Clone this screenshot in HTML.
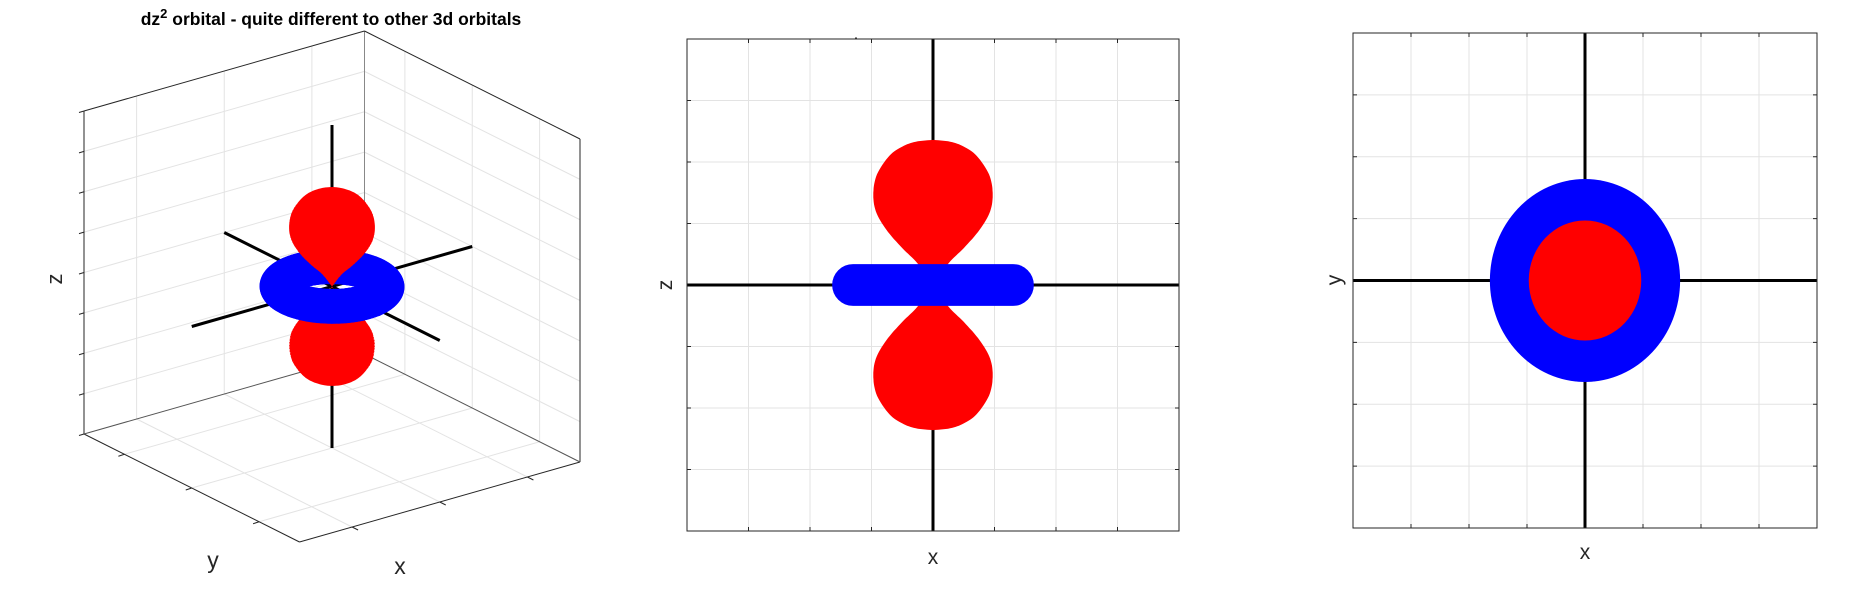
<!DOCTYPE html>
<html><head><meta charset="utf-8"><style>
html,body{margin:0;padding:0;background:#fff}
svg{display:block;font-family:"Liberation Sans",sans-serif}
</style></head><body>
<svg id="fig" width="1856" height="610" viewBox="0 0 1856 610" xmlns="http://www.w3.org/2000/svg">
<g id="p3d"></g>
<g id="pxz"></g>
<g id="pxy"></g>
<text x="331" y="25" text-anchor="middle" font-weight="bold" font-size="17.5">dz<tspan dy="-7" font-size="13">2</tspan><tspan dy="7"> orbital - quite different to other 3d orbitals</tspan></text>
<text transform="translate(62,279) rotate(-90)" text-anchor="middle" font-size="22" fill="#262626">z</text>
<text x="213" y="568" text-anchor="middle" font-size="23" fill="#262626">y</text>
<text x="400" y="574" text-anchor="middle" font-size="23" fill="#262626">x</text>
<text x="933" y="564" text-anchor="middle" font-size="21" fill="#262626">x</text>
<text transform="translate(672,285) rotate(-90)" text-anchor="middle" font-size="21" fill="#262626">z</text>
<text x="1585" y="559" text-anchor="middle" font-size="21" fill="#262626">x</text>
<text transform="translate(1341,280) rotate(-90)" text-anchor="middle" font-size="21" fill="#262626">y</text>
</svg>
<script>
// ---- data (axis units) ----
const axisRange = [-4, 4];
const ticks2D = [-3, -2, -1, 0, 1, 2, 3];
const ticks3DXY = [-2.5, 0, 2.5];
const ticks3DZ = [-3, -2, -1, 0, 1, 2, 3];
// lobe profile: height along z and half-width of the red lobe
const lobeZ = [0, 0.35, 0.6, 0.9, 1.2, 1.5, 1.8, 2.1, 2.25, 2.33, 2.36];
const lobeHalfW = [0, 0.25, 0.5, 0.76, 0.93, 0.97, 0.91, 0.71, 0.5, 0.28, 0];
// torus (blue ring): major radius and tube radius
const torusMajor = [1.3];
const torusTube = [0.34];

const NS = "http://www.w3.org/2000/svg";
function mk(parent, tag, attrs) {
  const e = document.createElementNS(NS, tag);
  for (const k in attrs) e.setAttribute(k, attrs[k]);
  parent.appendChild(e);
  return e;
}
const GRID = "#e3e3e3", AX = "#262626";

function lobeSamples(n) {
  const pts = lobeZ.map((z, i) => [z, lobeHalfW[i]]);
  const out = [];
  for (let i = 0; i < pts.length - 1; i++) {
    const p0 = pts[Math.max(0, i - 1)], p1 = pts[i], p2 = pts[i + 1], p3 = pts[Math.min(pts.length - 1, i + 2)];
    for (let k = 0; k < n; k++) {
      const t = k / n, t2 = t * t, t3 = t2 * t;
      const f = (a, b, c, d) => 0.5 * (2 * b + (-a + c) * t + (2 * a - 5 * b + 4 * c - d) * t2 + (-a + 3 * b - 3 * c + d) * t3);
      out.push([f(p0[0], p1[0], p2[0], p3[0]), Math.max(0, f(p0[1], p1[1], p2[1], p3[1]))]);
    }
  }
  out.push(pts[pts.length - 1]);
  return out;
}

function panel2D(g, box, kind) {
  const [x0, y0, x1, y1] = box;
  const sx = v => x0 + (v - axisRange[0]) / (axisRange[1] - axisRange[0]) * (x1 - x0);
  const sy = v => y1 - (v - axisRange[0]) / (axisRange[1] - axisRange[0]) * (y1 - y0);
  mk(g, "rect", {x: x0, y: y0, width: x1 - x0, height: y1 - y0, fill: "#fff"});
  ticks2D.forEach(t => {
    let l = mk(g, "line", {x1: sx(t), y1: y0, x2: sx(t), y2: y1, stroke: GRID, "stroke-width": 1});
    
    
    l = mk(g, "line", {x1: x0, y1: sy(t), x2: x1, y2: sy(t), stroke: GRID, "stroke-width": 1});
    
    
    mk(g, "line", {x1: sx(t), y1: y1, x2: sx(t), y2: y1 - 4, stroke: AX});
    mk(g, "line", {x1: sx(t), y1: y0, x2: sx(t), y2: y0 + 4, stroke: AX});
    mk(g, "line", {x1: x0, y1: sy(t), x2: x0 + 4, y2: sy(t), stroke: AX});
    mk(g, "line", {x1: x1, y1: sy(t), x2: x1 - 4, y2: sy(t), stroke: AX});
  });
  let a = mk(g, "line", {x1: sx(0), y1: y0, x2: sx(0), y2: y1, stroke: "#000", "stroke-width": 3});
  
  
  a = mk(g, "line", {x1: x0, y1: sy(0), x2: x1, y2: sy(0), stroke: "#000", "stroke-width": 3});
  
  
  const S = lobeSamples(8);
  const R = torusMajor[0], r = torusTube[0];
  if (kind === "xz") {
    [1, -1].forEach(sg => {
      let d = "";
      S.forEach((p, i) => { d += (i ? "L" : "M") + sx(p[1]).toFixed(1) + "," + sy(sg * p[0]).toFixed(1); });
      for (let i = S.length - 1; i >= 0; i--) d += "L" + sx(-S[i][1]).toFixed(1) + "," + sy(sg * S[i][0]).toFixed(1);
      const lobe = mk(g, "path", {d: d + "Z", fill: "#f00"});
      
      
    });
    const ry = Math.abs(sy(r) - sy(0)), rx = Math.abs(sx(r) - sx(0));
    let d = "M" + sx(-R) + "," + sy(r) + "L" + sx(R) + "," + sy(r) +
      "A" + rx + "," + ry + " 0 0 1 " + sx(R) + "," + sy(-r) +
      "L" + sx(-R) + "," + sy(-r) + "A" + rx + "," + ry + " 0 0 1 " + sx(-R) + "," + sy(r) + "Z";
    const ring = mk(g, "path", {d: d, fill: "#00f"});
    
    
  } else {
    const outer = R + r;
    const ring = mk(g, "ellipse", {cx: sx(0), cy: sy(0), rx: sx(outer) - sx(0), ry: sy(0) - sy(outer), fill: "#00f"});
    
    
    const wmax = Math.max(...lobeHalfW);
    const lobe = mk(g, "ellipse", {cx: sx(0), cy: sy(0), rx: sx(wmax) - sx(0), ry: sy(0) - sy(wmax), fill: "#f00"});
    
    
  }
  mk(g, "rect", {x: x0, y: y0, width: x1 - x0, height: y1 - y0, fill: "none", stroke: AX, "stroke-width": 1});
}
panel2D(document.getElementById("pxz"), [687, 39, 1179, 531], "xz");
panel2D(document.getElementById("pxy"), [1353, 33, 1817, 528], "xy");
mk(document.getElementById("pxz"), "circle", {cx: 856, cy: 38, r: 0.8, fill: "#000"});

const g3 = document.getElementById("p3d");
const F = [299.5, 542], VX = [280.5, -80], VY = [-215.5, -108], VZ = [0, -323];
function P(x, y, z) {
  const u = (x - axisRange[0]) / 8, v = (y - axisRange[0]) / 8, w = (z - axisRange[0]) / 8;
  return [F[0] + u * VX[0] + v * VY[0] + w * VZ[0], F[1] + u * VX[1] + v * VY[1] + w * VZ[1]];
}
function line3(a, b, attrs, name) {
  const p = P(...a), q = P(...b);
  const l = mk(g3, "line", Object.assign({x1: p[0], y1: p[1], x2: q[0], y2: q[1]}, attrs));
  
  
  return l;
}
const lo = axisRange[0], hi = axisRange[1];
const gs = {stroke: GRID, "stroke-width": 1};
ticks3DXY.forEach(t => {
  line3([t, hi, lo], [t, hi, hi], gs, 'grid-line');
  line3([hi, t, lo], [hi, t, hi], gs, 'grid-line');
  line3([t, lo, lo], [t, hi, lo], gs, 'grid-line');
  line3([lo, t, lo], [hi, t, lo], gs, 'grid-line');
});
ticks3DZ.forEach(t => {
  line3([lo, hi, t], [hi, hi, t], gs, 'grid-line');
  line3([hi, hi, t], [hi, lo, t], gs, 'grid-line');
});
const es = {stroke: AX, "stroke-width": 1};
line3([lo, hi, lo], [lo, hi, hi], es, 'box-edge');
line3([hi, hi, lo], [hi, hi, hi], {stroke: "#888", "stroke-width": 1}, 'box-edge');
line3([hi, lo, lo], [hi, lo, hi], es, 'box-edge');
line3([lo, hi, hi], [hi, hi, hi], es, 'box-edge');
line3([hi, hi, hi], [hi, lo, hi], es, 'box-edge');
line3([lo, hi, lo], [lo, lo, lo], es, 'box-edge');
line3([lo, lo, lo], [hi, lo, lo], es, 'box-edge');
line3([lo, hi, lo], [hi, hi, lo], {stroke: "#555", "stroke-width": 1}, 'box-edge');
line3([hi, hi, lo], [hi, lo, lo], {stroke: "#555", "stroke-width": 1}, 'box-edge');
ticks3DZ.concat([lo, hi]).forEach(t => {
  const p = P(lo, hi, t);
  mk(g3, "line", {x1: p[0], y1: p[1], x2: p[0] - 5, y2: p[1] + 1.5, stroke: AX});
});
ticks3DXY.forEach(t => {
  let p = P(t, lo, lo);
  mk(g3, "line", {x1: p[0], y1: p[1], x2: p[0] + 6, y2: p[1] + 3, stroke: AX});
  p = P(lo, t, lo);
  mk(g3, "line", {x1: p[0], y1: p[1], x2: p[0] - 6, y2: p[1] + 2, stroke: AX});
});
const bs = {stroke: "#000", "stroke-width": 3};
line3([0, 0, lo], [0, 0, hi], bs, 'z-coordinate-axis');
line3([lo, 0, 0], [hi, 0, 0], bs, 'x-coordinate-axis');
line3([0, lo, 0], [0, hi, 0], bs, 'y-coordinate-axis');

const HSCALE = Math.hypot(VX[0], VY[0]) / 8;
function ringPoly(r, z) {
  let d = "";
  for (let i = 0; i <= 36; i++) {
    const a = i / 36 * 2 * Math.PI;
    const p = P(r * Math.cos(a), r * Math.sin(a), z);
    d += (i ? "L" : "M") + p[0].toFixed(1) + "," + p[1].toFixed(1);
  }
  return d + "Z";
}
function lobe3(sg, name) {
  const S = lobeSamples(5);
  let d = "";
  S.forEach(p => { if (p[1] > 0.01) d += ringPoly(p[1], sg * p[0]); });
  let body = "";
  S.forEach((p, i) => { const q = P(0, 0, sg * p[0]); body += (i ? "L" : "M") + (q[0] + p[1] * HSCALE).toFixed(1) + "," + q[1].toFixed(1); });
  for (let i = S.length - 1; i >= 0; i--) { const q = P(0, 0, sg * S[i][0]); body += "L" + (q[0] - S[i][1] * HSCALE).toFixed(1) + "," + q[1].toFixed(1); }
  const el = mk(g3, "path", {d: d + body + "Z", fill: "#f00"});
  
  
}
lobe3(-1, 'lower-lobe-3d');
(function () {
  const outer = torusMajor[0] + torusTube[0];
  const R = outer - 0.46;
  const tg = mk(g3, "g", {fill: "#00f"});
  
  
  for (let i = 0; i < 90; i++) {
    const a = i / 90 * 2 * Math.PI;
    const c = P(R * Math.cos(a), R * Math.sin(a), 0);
    mk(tg, "ellipse", {cx: c[0], cy: c[1], rx: 0.46 * HSCALE, ry: 17.5});
  }
})();
lobe3(1, 'upper-lobe-3d');
</script>
</body></html>
